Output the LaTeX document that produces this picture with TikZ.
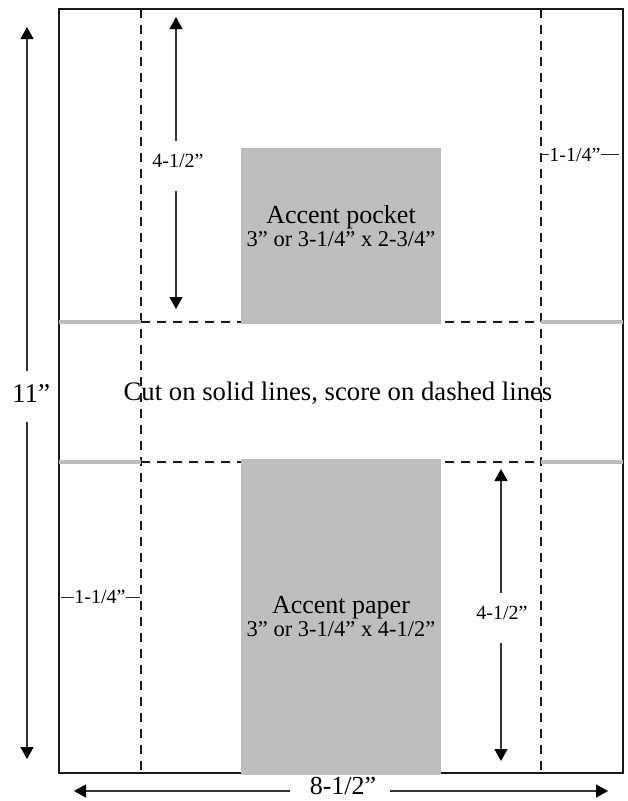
\documentclass[tikz,border=0pt]{standalone}
\usepackage{fontspec}
\setmainfont{Liberation Serif}
\usetikzlibrary{arrows.meta}
\definecolor{cardgray}{RGB}{188,190,192}
\begin{document}
\begin{tikzpicture}[x=1pt,y=-1pt,
  sheet/.style={draw=black!90, line width=2.8pt},
  scoreline/.style={draw=black!90, line width=2.1pt, dash pattern=on 9pt off 7pt},
  cutline/.style={draw=cardgray, line width=4pt},
  accentbox/.style={fill=cardgray, inner sep=0pt},
  arr/.style={draw=black!80, line width=1.2pt, -{Triangle[width=13pt,length=12pt,color=black]}},
  bigtxt/.style={font=\fontsize{27}{30}\selectfont, inner sep=0pt, anchor=base},
  midtxt/.style={font=\fontsize{26}{30}\selectfont, inner sep=0pt, anchor=base},
  sizetxt/.style={font=\fontsize{22.5}{26}\selectfont, inner sep=0pt, anchor=base},
  smalltxt/.style={font=\fontsize{20}{24}\selectfont, inner sep=0pt, anchor=base},
  dimline/.style={draw=black!85, line width=1pt},
]
\useasboundingbox (0,0) rectangle (628,801);

% sheet outline
\draw[sheet] (59,9) rectangle (623,773);

% score (dashed) lines
\coordinate (vlt) at (141,9);  \coordinate (vlb) at (141,773);
\coordinate (vrt) at (541,9);  \coordinate (vrb) at (541,773);
\coordinate (hul) at (141,322); \coordinate (hur) at (541,322);
\coordinate (hll) at (141,462); \coordinate (hlr) at (541,462);
\draw[scoreline] (vlt) -- (vlb);
\draw[scoreline] (vrt) -- (vrb);
\draw[scoreline] (hul) -- (hur);
\draw[scoreline] (hll) -- (hlr);

% cut (solid grey) lines
\coordinate (cul) at (59,322);  \coordinate (cur) at (623,322);
\coordinate (cll) at (59,462);  \coordinate (clr) at (623,462);
\draw[cutline] (cul) -- (hul);
\draw[cutline] (hur) -- (cur);
\draw[cutline] (cll) -- (hll);
\draw[cutline] (hlr) -- (clr);

% accent pieces
\node[accentbox, minimum width=200pt, minimum height=176pt] (pocket) at (341,236) {};
\node[accentbox, minimum width=200pt, minimum height=316pt] (paper) at (341,617) {};

\node[midtxt] (pockettitle) at (341,223) {Accent pocket};
\node[sizetxt] (pocketsize) at (341,246) {3” or 3-1/4” x 2-3/4”};
\node[midtxt] (papertitle) at (341,613) {Accent paper};
\node[sizetxt] (papersize) at (341,636) {3” or 3-1/4” x 4-1/2”};

\node[bigtxt, font=\fontsize{26.7}{30}\selectfont] (instr) at (338,400) {Cut on solid lines, score on dashed lines};

% 11 inch dimension
\node[bigtxt] (h11) at (31,402) {11”};
\coordinate (h11a) at (27,371); \coordinate (h11top) at (27,27);
\coordinate (h11b) at (27,422); \coordinate (h11bot) at (27,759);
\draw[arr] (h11a) -- (h11top);
\draw[arr] (h11b) -- (h11bot);

% 8-1/2 inch dimension
\node[bigtxt, font=\fontsize{26}{30}\selectfont] (w85) at (343,794) {8-1/2”};
\coordinate (w85a) at (290,791); \coordinate (w85left) at (74,791);
\coordinate (w85b) at (390,791); \coordinate (w85right) at (608,791);
\draw[arr] (w85a) -- (w85left);
\draw[arr] (w85b) -- (w85right);

% upper 4-1/2 dimension
\node[smalltxt] (d45u) at (178,167) {4-1/2”};
\coordinate (d45ua) at (176,141); \coordinate (d45utop) at (176,17);
\coordinate (d45ub) at (176,191); \coordinate (d45ubot) at (176,309);
\draw[arr] (d45ua) -- (d45utop);
\draw[arr] (d45ub) -- (d45ubot);

% lower 4-1/2 dimension
\node[smalltxt] (d45l) at (502,619) {4-1/2”};
\coordinate (d45la) at (501,593); \coordinate (d45ltop) at (501,469);
\coordinate (d45lb) at (501,643); \coordinate (d45lbot) at (501,761);
\draw[arr] (d45la) -- (d45ltop);
\draw[arr] (d45lb) -- (d45lbot);

% 1-1/4 margins
\node[smalltxt, fill=white] (m14r) at (575,161) {1-1/4”};
\coordinate (m14ra) at (541,154); \coordinate (m14rb) at (619,154);
\draw[dimline] (m14ra) -- (m14ra -| m14r.west);
\draw[dimline] (m14r.east |- m14rb) -- (m14rb);

\node[smalltxt, fill=white] (m14l) at (100,603) {1-1/4”};
\coordinate (m14la) at (61,597); \coordinate (m14lb) at (140,597);
\draw[dimline] (m14la) -- (m14la -| m14l.west);
\draw[dimline] (m14l.east |- m14lb) -- (m14lb);
\end{tikzpicture}
\end{document}
